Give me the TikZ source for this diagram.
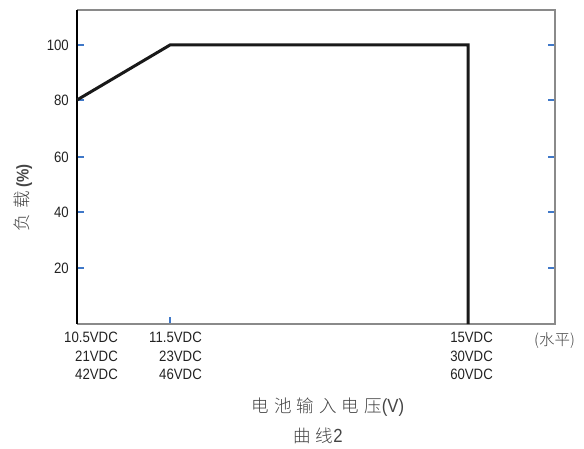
\documentclass[tikz,border=0pt]{standalone}
\usepackage{fontspec}
\setmainfont{Liberation Sans}
\newfontfamily\numfont{Liberation Sans}[FakeStretch=0.88]
\newfontfamily\cjk{Noto Sans CJK SC Light}
\definecolor{txt}{HTML}{222222}
\definecolor{cjkc}{HTML}{444444}
\definecolor{axisg}{HTML}{8A8A8A}
\definecolor{tickb}{HTML}{3F78C8}
\begin{document}
\begin{tikzpicture}[x=1pt,y=-1pt,
  num/.style={font=\numfont\fontsize{15}{18.5}\selectfont,text=txt,inner sep=0pt},
  cjklab/.style={font=\cjk\fontsize{17.5}{20}\selectfont,text=cjkc,inner sep=0pt},
  ytick/.style={draw=tickb,line width=1.2pt},
  curve/.style={draw=black!90,line width=3pt,line join=miter}]
\useasboundingbox (0,0) rectangle (584,449);
% frame
\coordinate (tl) at (77,10);
\coordinate (tr) at (555,10);
\coordinate (bl) at (77,324);
\coordinate (br) at (555,324);
\draw[axisg,line width=1.2pt] (tl) -- (tr) -- (br) -- (bl);
\draw[black,line width=1.2pt] (tl) -- (bl);
% y ticks
\foreach \v/\y in {100/45,80/100,60/157,40/212,20/268}{
  \draw[ytick] (77.6,\y) -- (84,\y);
  \draw[ytick] (548,\y) -- (554.4,\y);
  \node[num,anchor=east] (y\v) at (69,\y) {\v};
}
\draw[ytick] (170,323.4) -- (170,317);
% curve
\coordinate (c1) at (77,100);
\coordinate (c2) at (170,45);
\coordinate (c3) at (468,45);
\coordinate (c4) at (468,324);
\draw[curve] (c1) -- (c2) -- (c3) -- (c4);
% x labels
\node[num,anchor=north east,align=right] (xa) at (118,332) {10.5VDC\\21VDC\\42VDC};
\node[num,anchor=north east,align=right] (xb) at (202,332) {11.5VDC\\23VDC\\46VDC};
\node[num,anchor=north east,align=right] (xc) at (493,332) {15VDC\\30VDC\\60VDC};
\node[cjklab,font=\cjk\fontsize{15.5}{16}\selectfont,anchor=west] (xh) at (534,341) {(水平)};
% axis titles
\node[cjklab] (xt) at (328,407) {电\hspace{5pt}池\hspace{5pt}输\hspace{5pt}入\hspace{5pt}电\hspace{5pt}压{\numfont\fontsize{19}{20}\selectfont(V)}};
\node[cjklab] (ct) at (318,436) {曲\hspace{5pt}线{\numfont\fontsize{19}{20}\selectfont 2}};
\node[cjklab,rotate=90] (yt) at (23,198) {负\hspace{6pt}载\hspace{3pt}{\fontspec{Liberation Sans}[FakeStretch=0.88]\bfseries\fontsize{17}{18}\selectfont(\%)}};
\end{tikzpicture}
\end{document}
